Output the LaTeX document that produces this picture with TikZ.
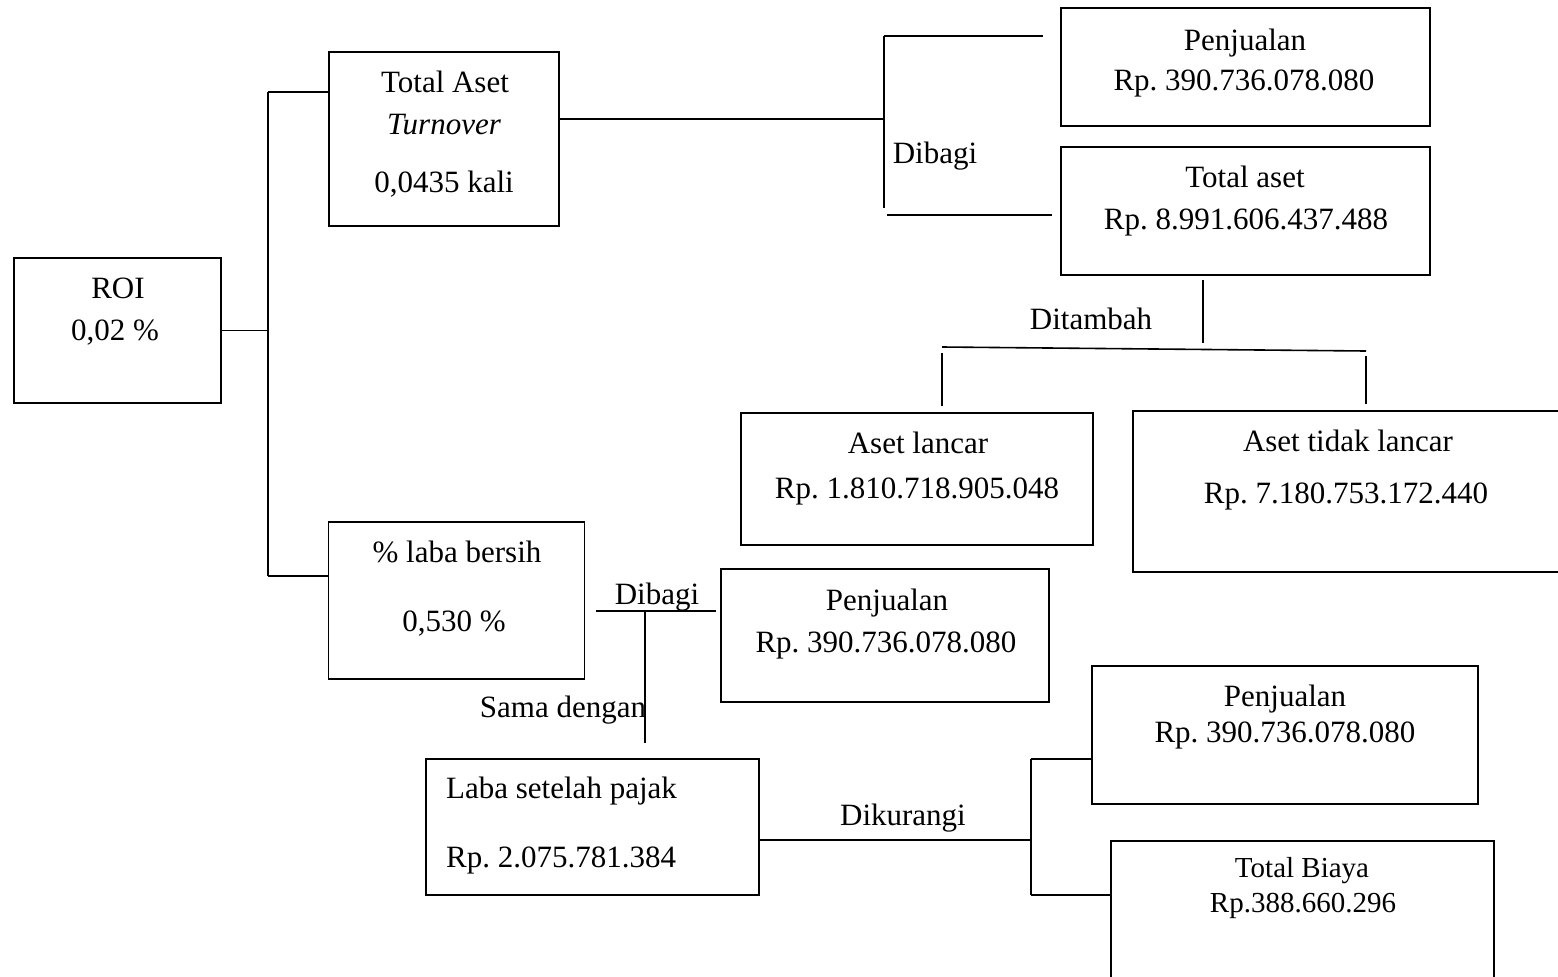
\documentclass[tikz,border=0pt]{standalone}
\usepackage{fontspec}
\setmainfont{Liberation Serif}
\frenchspacing
\begin{document}
\begin{tikzpicture}[x=1pt,y=-1pt,
  box/.style={draw, line width=1.6pt, inner sep=0pt},
  link/.style={line width=1.6pt},
  thin link/.style={line width=1.3pt},
  txt/.style={inner sep=0pt, anchor=base, font=\fontsize{31}{37}\selectfont},
  ltxt/.style={txt, anchor=base west},
  stxt/.style={txt, font=\fontsize{29}{35}\selectfont}]
\clip (0,0) rectangle (1558,977);

% boxes
\node[box, minimum width=207pt, minimum height=145pt] (roi) at (117.5,330.5) {};
\node[box, minimum width=230pt, minimum height=174pt] (tat) at (444,139) {};
\node[box, minimum width=369pt, minimum height=118pt] (pj1) at (1245.5,67) {};
\node[box, minimum width=369pt, minimum height=128pt] (ta) at (1245.5,211) {};
\node[box, minimum width=352pt, minimum height=132pt] (al) at (917,479) {};
\node[box, minimum width=437pt, minimum height=161pt] (atl) at (1351.5,491.5) {};
\node[box, minimum width=256pt, minimum height=157pt] (lb) at (456.5,600.5) {};
\node[box, minimum width=328pt, minimum height=133pt] (pj2) at (885,635.5) {};
\node[box, minimum width=333pt, minimum height=136pt] (lsp) at (592.5,827) {};
\node[box, minimum width=386pt, minimum height=138pt] (pj3) at (1285,735) {};
\node[box, minimum width=383pt, minimum height=159pt] (tb) at (1302.5,920.5) {};

% texts
\node[txt] (roi1) at (118,298) {ROI};
\node[txt] (roi2) at (115,340) {0,02 \%};
\node[txt] (tat1) at (445,92) {Total Aset};
\node[txt] (tat2) at (444,134) {\itshape Turnover};
\node[txt] (tat3) at (444,192) {0,0435 kali};
\node[txt] (pj11) at (1245,50) {Penjualan};
\node[txt] (pj12) at (1244,90) {Rp. 390.736.078.080};
\node[txt] (ta1) at (1245,187) {Total aset};
\node[txt] (ta2) at (1246,229) {Rp. 8.991.606.437.488};
\node[txt] (op1) at (935,163) {Dibagi};
\node[txt] (op2) at (1091,329) {Ditambah};
\node[txt] (al1) at (918,453) {Aset lancar};
\node[txt] (al2) at (917,498) {Rp. 1.810.718.905.048};
\node[txt] (atl1) at (1348,451) {Aset tidak lancar};
\node[txt] (atl2) at (1346,503) {Rp. 7.180.753.172.440};
\node[txt] (lb1) at (457,562) {\% laba bersih};
\node[txt] (lb2) at (454,631) {0,530 \%};
\node[txt] (op3) at (657,604) {Dibagi};
\node[txt] (pj21) at (887,610) {Penjualan};
\node[txt] (pj22) at (886,652) {Rp. 390.736.078.080};
\node[txt] (op4) at (563,717) {Sama dengan};
\node[ltxt] (lsp1) at (446,798) {Laba setelah pajak};
\node[ltxt] (lsp2) at (446,867) {Rp. 2.075.781.384};
\node[txt] (op5) at (903,825) {Dikurangi};
\node[txt] (pj31) at (1285,706) {Penjualan};
\node[txt] (pj32) at (1285,742) {Rp. 390.736.078.080};
\node[stxt] (tb1) at (1302,877) {Total Biaya};
\node[stxt] (tb2) at (1303,912) {Rp.388.660.296};

% ROI tree spine
\coordinate (spT) at (268,92);
\coordinate (spB) at (268,576);
\draw[link] (spT) -- (spB);
\draw[link] (spT) -- (spT -| tat.west);
\draw[link] (spB) -- (spB -| lb.west);
\draw[link] (roi.east) -- (roi.east -| spT);

% turnover: sales divided by total assets
\coordinate (brT) at (884,36);
\coordinate (brB) at (884,208);
\coordinate (tatR) at (559,119);
\draw[link] (tatR) -- (tatR -| brT);
\draw[link] (brT) -- (brB);
\draw[link] (brT) -- (1043,36);
\draw[link] (887,215) -- (1052,215);

% total assets = current + non-current
\coordinate (taS) at (1203,280);
\coordinate (taM) at (1203,343);
\coordinate (addL) at (942,347);
\coordinate (addR) at (1366,351);
\draw[thin link] (taS) -- (taM);
\draw[link] (addL) -- (addR);
\draw[thin link] (942,353) -- (942,406);
\draw[thin link] (1366,356) -- (1366,404);

% net profit margin: profit divided by sales
\coordinate (dvL) at (596,611);
\coordinate (dvR) at (716,611);
\coordinate (dvX) at (645,611);
\coordinate (dvD) at (645,743);
\draw[link] (dvL) -- (dvR);
\draw[thin link] (dvX) -- (dvD);

% profit after tax = sales minus total cost
\coordinate (kT) at (1031,759);
\coordinate (kB) at (1031,895);
\coordinate (kM) at (1031,840);
\draw[link] (lsp.east |- kM) -- (kM);
\draw[link] (kT) -- (kB);
\draw[link] (kT) -- (kT -| pj3.west);
\draw[link] (kB) -- (kB -| tb.west);
\end{tikzpicture}
\end{document}
